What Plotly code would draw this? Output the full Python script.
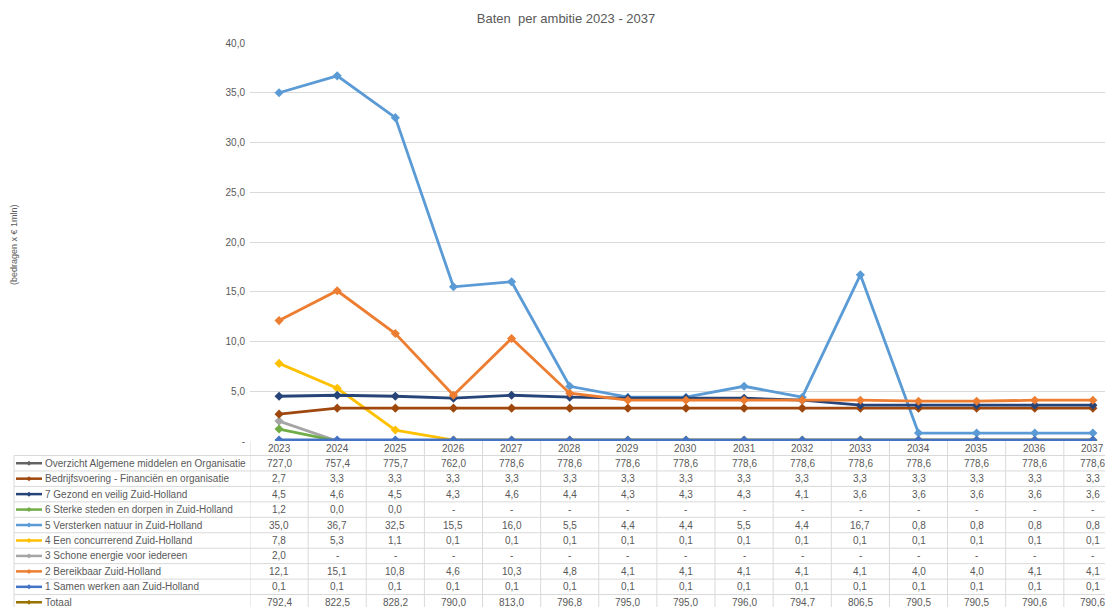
import plotly.graph_objects as go

years = [str(y) for y in range(2023, 2038)]

series_names = [
    "Overzicht Algemene middelen en Organisatie",
    "Bedrijfsvoering - Financiën en organisatie",
    "7 Gezond en veilig Zuid-Holland",
    "6 Sterke steden en dorpen in Zuid-Holland",
    "5 Versterken natuur in Zuid-Holland",
    "4 Een concurrerend Zuid-Holland",
    "3 Schone energie voor iedereen",
    "2 Bereikbaar Zuid-Holland",
    "1 Samen werken aan Zuid-Holland",
    "Totaal",
]

overzicht = [727.0, 757.4, 775.7, 762.0, 778.6, 778.6, 778.6, 778.6, 778.6, 778.6, 778.6, 778.6, 778.6, 778.6, 778.6]
bedrijfsvoering = [2.7, 3.3, 3.3, 3.3, 3.3, 3.3, 3.3, 3.3, 3.3, 3.3, 3.3, 3.3, 3.3, 3.3, 3.3]
ambitie7 = [4.5, 4.6, 4.5, 4.3, 4.6, 4.4, 4.3, 4.3, 4.3, 4.1, 3.6, 3.6, 3.6, 3.6, 3.6]
ambitie6 = [1.2, 0.0, 0.0, None, None, None, None, None, None, None, None, None, None, None, None]
ambitie5 = [35.0, 36.7, 32.5, 15.5, 16.0, 5.5, 4.4, 4.4, 5.5, 4.4, 16.7, 0.8, 0.8, 0.8, 0.8]
ambitie4 = [7.8, 5.3, 1.1, 0.1, 0.1, 0.1, 0.1, 0.1, 0.1, 0.1, 0.1, 0.1, 0.1, 0.1, 0.1]
ambitie3 = [2.0, None, None, None, None, None, None, None, None, None, None, None, None, None, None]
ambitie2 = [12.1, 15.1, 10.8, 4.6, 10.3, 4.8, 4.1, 4.1, 4.1, 4.1, 4.1, 4.0, 4.0, 4.1, 4.1]
ambitie1 = [0.1, 0.1, 0.1, 0.1, 0.1, 0.1, 0.1, 0.1, 0.1, 0.1, 0.1, 0.1, 0.1, 0.1, 0.1]
totaal = [792.4, 822.5, 828.2, 790.0, 813.0, 796.8, 795.0, 795.0, 796.0, 794.7, 806.5, 790.5, 790.5, 790.6, 790.6]

series_values = [overzicht, bedrijfsvoering, ambitie7, ambitie6, ambitie5,
                 ambitie4, ambitie3, ambitie2, ambitie1, totaal]
series_colors = ["#636363", "#9E480E", "#264478", "#70AD47", "#5B9BD5",
                 "#FFC000", "#A5A5A5", "#ED7D31", "#4472C4", "#997300"]

y_tickvals = [0, 5, 10, 15, 20, 25, 30, 35, 40]
y_ticktext = ["-", "5,0", "10,0", "15,0", "20,0", "25,0", "30,0", "35,0", "40,0"]

# ---------------- layout geometry (pixels) ----------------
W, H = 1105, 607
PL, PR, PT, PB = 250, 0, 43, 166
plot_h = H - PT - PB          # 398
plot_w = W - PL - PR          # 855
cat_w = 58.13
table_left_px = 14
header_h = 14.5
row_h = 15.45
TXT = "#595959"
GRID = "#d9d9d9"
FONT = "Liberation Sans, Arial, sans-serif"


def py(px_below):
    """pixel offset below the plot bottom -> paper y"""
    return -px_below / plot_h


def pxx(px):
    """absolute pixel x -> paper x"""
    return (px - PL) / plot_w


def fmt(v):
    if v is None:
        return "-"
    return f"{v:.1f}".replace(".", ",")


fig = go.Figure()

draw_order = [9, 0, 6, 5, 3, 4, 1, 2, 7, 8]
for i in draw_order:
    vals = [0 if v is None else v for v in series_values[i]]
    fig.add_trace(go.Scatter(
        x=years, y=vals, mode="lines+markers", name=series_names[i],
        line=dict(color=series_colors[i], width=2.8),
        marker=dict(symbol="diamond", size=7, color=series_colors[i]),
        showlegend=False,
    ))

shapes = []
annotations = []

n_rows = len(series_names)
table_bottom = header_h + n_rows * row_h

# vertical lines of the table
for k in range(len(years) + 1):
    shapes.append(dict(type="line", xref="x", yref="paper",
                       x0=k - 0.5, x1=k - 0.5, y0=py(0), y1=py(table_bottom + 5),
                       line=dict(color=GRID, width=1)))
shapes.append(dict(type="line", xref="paper", yref="paper",
                   x0=pxx(table_left_px), x1=pxx(table_left_px),
                   y0=py(header_h), y1=py(table_bottom + 5),
                   line=dict(color=GRID, width=1)))
# horizontal lines of the table
for r in range(n_rows + 1):
    yy = py(header_h + r * row_h)
    shapes.append(dict(type="line", xref="paper", yref="paper",
                       x0=pxx(table_left_px), x1=1, y0=yy, y1=yy,
                       line=dict(color=GRID, width=1)))

# header years (category index used as x position)
for ci, yr in enumerate(years):
    annotations.append(dict(xref="x", yref="paper", x=ci, y=py(header_h / 2 + 0.5),
                            text=yr, showarrow=False, xanchor="center", yanchor="middle",
                            font=dict(size=10, color=TXT, family=FONT)))

# rows
for r, (name, vals, col) in enumerate(zip(series_names, series_values, series_colors)):
    yc = py(header_h + r * row_h + row_h / 2)
    # legend key
    shapes.append(dict(type="line", xref="paper", yref="paper",
                       x0=pxx(16), x1=pxx(42), y0=yc, y1=yc,
                       line=dict(color=col, width=2.5)))
    shapes.append(dict(type="path", xref="paper", yref="paper",
                       path=f"M {pxx(26.5)},{yc} L {pxx(29)},{yc + 2.5 / plot_h} "
                            f"L {pxx(31.5)},{yc} L {pxx(29)},{yc - 2.5 / plot_h} Z",
                       fillcolor=col, line=dict(color=col, width=0)))
    annotations.append(dict(xref="paper", yref="paper", x=pxx(42.5), y=yc,
                            text=name, showarrow=False, xanchor="left", yanchor="middle",
                            font=dict(size=10, color=TXT, family=FONT)))
    for ci, v in enumerate(vals):
        annotations.append(dict(xref="x", yref="paper", x=ci, y=yc,
                                text=fmt(v), showarrow=False, xanchor="center", yanchor="middle",
                                font=dict(size=10, color=TXT, family=FONT)))

# y-axis title
annotations.append(dict(xref="paper", yref="paper", x=pxx(14), y=(H - PB - 245) / plot_h,
                        text="(bedragen x € 1mln)", textangle=-90, showarrow=False,
                        xanchor="center", yanchor="middle",
                        font=dict(size=9, color=TXT, family=FONT)))

fig.update_layout(
    width=W, height=H,
    margin=dict(l=PL, r=PR, t=PT, b=PB),
    paper_bgcolor="white", plot_bgcolor="white",
    title=dict(text="Baten  per ambitie 2023 - 2037", x=566 / W, xanchor="center",
               xref="container", y=1 - 18 / H, yanchor="middle",
               font=dict(size=13, color=TXT, family=FONT)),
    xaxis=dict(type="category", range=[-0.5, -0.5 + plot_w / cat_w],
               showticklabels=False, showgrid=False, zeroline=False, showline=False,
               ticks=""),
    yaxis=dict(range=[0, 40], tickvals=y_tickvals, ticktext=y_ticktext,
               showgrid=True, gridcolor=GRID, gridwidth=1, zeroline=False,
               showline=False, ticks="", ticklabelstandoff=4,
               tickfont=dict(size=10, color=TXT, family=FONT)),
    shapes=shapes,
    annotations=annotations,
    font=dict(family=FONT, color=TXT),
)

fig.write_html("out.html", config={"displayModeBar": False},
               post_script="document.body.style.margin='0';document.body.style.overflow='hidden';")
